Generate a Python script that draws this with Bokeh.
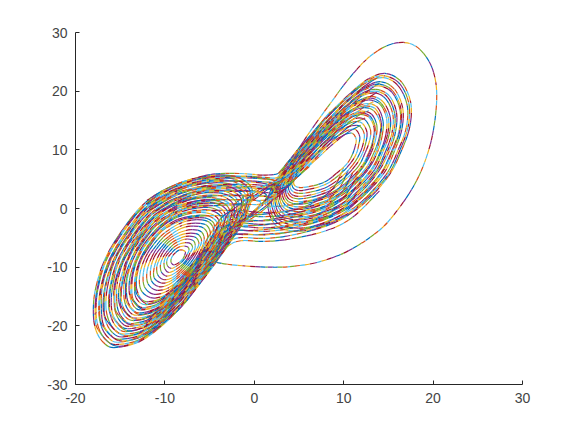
from bokeh.plotting import figure
from bokeh.models import FixedTicker
from bokeh.embed import file_html
from bokeh.resources import INLINE

# The strands overlap too densely to follow one by one in the picture. Rims, the hole, the lone
# outer loop and the band edges are read from it; the strands between them are hand estimates.
# Only the listed points are data: the drawing joins them with smooth Bezier curves.

x_ticks = [-20, -10, 0, 10, 20, 30]
y_ticks = [-30, -20, -10, 0, 10, 20, 30]
colours = ["#0072BD", "#D95319", "#EDB120", "#7E2F8E", "#77AC30", "#4DBEEE", "#A2142F"]

lone_loop = [(-4.2,-9.2),(-3,-9.5),(-1,-9.8),(1.5,-10),(4,-9.9),(7,-9.2),(10,-7.6),(12.5,-5.4),(14.5,-3),(16,-.3),(17.3,2.5),(18.4,5.5),(19.2,8.5),(19.8,11.6),(20.2,15),(20.4,18.5),(20.3,21.5),(19.8,24.3),(18.9,26.5),(17.9,27.8),(16.7,28.3),(15.3,28),(13.8,26.9),(12.2,24.9),(10.3,21.6),(8.5,17.9),(6.5,13.7),(4.8,9.9),(3.7,7.8),(2.7,6)]

L01 = [(-15.7,-23.7),(-16.9,-22.8),(-17.7,-20.8),(-18,-18),(-17.8,-14),(-16.8,-9),(-15,-4.2),(-12.2,1),(-8.6,4.2),(-4.9,5.6),(-2,5.4),(-.3,3.5),(-.5,.5),(-1.3,-2.5),(-2.6,-5.5),(-4.3,-9.2),(-6.2,-13),(-8,-16.5),(-10.5,-20.2),(-13,-22.8)]
L02 = [(-15.5,-23.2),(-16.6,-22.4),(-17.4,-20.4),(-17.7,-17.7),(-17.5,-13.8),(-16.6,-9),(-14.8,-4.3),(-12.1,.7),(-8.6,3.8),(-5,5.2),(-2.2,5),(-.5,3.1),(-.7,.2),(-1.5,-2.7),(-2.8,-5.6),(-4.4,-9.2),(-6.3,-12.9),(-8,-16.3),(-10.4,-19.8),(-12.9,-22.4)]
L03 = [(-15.3,-22.8),(-16.4,-21.9),(-17.1,-20.1),(-17.4,-17.4),(-17.2,-13.7),(-16.3,-9),(-14.6,-4.5),(-12,.4),(-8.6,3.4),(-5.1,4.8),(-2.4,4.6),(-.8,2.8),(-1,0),(-1.7,-2.9),(-3,-5.7),(-4.6,-9.2),(-6.3,-12.7),(-8,-16),(-10.4,-19.5),(-12.7,-21.9)]
L04 = [(-15.1,-22.3),(-16.1,-21.5),(-16.9,-19.7),(-17.1,-17.1),(-17,-13.5),(-16.1,-9),(-14.4,-4.6),(-11.9,.1),(-8.6,3.1),(-5.2,4.3),(-2.6,4.1),(-1,2.4),(-1.2,-.3),(-1.9,-3),(-3.1,-5.8),(-4.7,-9.1),(-6.4,-12.6),(-8,-15.8),(-10.3,-19.1),(-12.6,-21.5)]
L05 = [(-14.8,-21.9),(-15.9,-21.1),(-16.6,-19.3),(-16.9,-16.9),(-16.7,-13.3),(-15.8,-8.9),(-14.2,-4.7),(-11.8,-.1),(-8.6,2.7),(-5.3,3.9),(-2.8,3.7),(-1.3,2.1),(-1.5,-.6),(-2.2,-3.2),(-3.3,-5.9),(-4.8,-9.1),(-6.5,-12.5),(-8.1,-15.5),(-10.3,-18.8),(-12.5,-21.1)]
L06 = [(-14.6,-21.4),(-15.6,-20.7),(-16.3,-19),(-16.6,-16.6),(-16.4,-13.2),(-15.6,-8.9),(-14,-4.8),(-11.6,-.4),(-8.6,2.3),(-5.4,3.5),(-3,3.3),(-1.5,1.7),(-1.7,-.8),(-2.4,-3.4),(-3.5,-5.9),(-4.9,-9.1),(-6.5,-12.3),(-8.1,-15.3),(-10.2,-18.4),(-12.3,-20.7)]
L07 = [(-14.4,-21),(-15.4,-20.2),(-16,-18.6),(-16.3,-16.3),(-16.1,-13),(-15.3,-8.9),(-13.8,-5),(-11.5,-.7),(-8.6,1.9),(-5.5,3.1),(-3.2,2.9),(-1.8,1.3),(-1.9,-1.1),(-2.6,-3.6),(-3.7,-6),(-5.1,-9.1),(-6.6,-12.2),(-8.1,-15.1),(-10.1,-18.1),(-12.2,-20.2)]
L08 = [(-14.2,-20.5),(-15.1,-19.8),(-15.8,-18.2),(-16,-16),(-15.8,-12.8),(-15.1,-8.9),(-13.6,-5.1),(-11.4,-1),(-8.6,1.5),(-5.7,2.6),(-3.4,2.5),(-2,1),(-2.2,-1.4),(-2.8,-3.8),(-3.8,-6.1),(-5.2,-9.1),(-6.7,-12.1),(-8.1,-14.8),(-10.1,-17.7),(-12.1,-19.8)]
L09 = [(-14,-20.1),(-14.9,-19.4),(-15.5,-17.8),(-15.7,-15.7),(-15.6,-12.7),(-14.8,-8.9),(-13.4,-5.2),(-11.3,-1.3),(-8.6,1.2),(-5.8,2.2),(-3.6,2.1),(-2.3,.6),(-2.4,-1.7),(-3,-3.9),(-4,-6.2),(-5.3,-9),(-6.8,-11.9),(-8.1,-14.6),(-10,-17.4),(-11.9,-19.4)]
L10 = [(-13.8,-19.6),(-14.6,-18.9),(-15.2,-17.5),(-15.4,-15.4),(-15.3,-12.5),(-14.6,-8.9),(-13.2,-5.4),(-11.2,-1.6),(-8.6,.8),(-5.9,1.8),(-3.8,1.6),(-2.5,.3),(-2.7,-1.9),(-3.2,-4.1),(-4.2,-6.3),(-5.4,-9),(-6.8,-11.8),(-8.1,-14.3),(-10,-17),(-11.8,-18.9)]
L11 = [(-13.5,-19.1),(-14.4,-18.5),(-14.9,-17.1),(-15.2,-15.2),(-15,-12.4),(-14.3,-8.9),(-13.1,-5.5),(-11.1,-1.8),(-8.6,.4),(-6,1.4),(-3.9,1.2),(-2.8,-.1),(-2.9,-2.2),(-3.5,-4.3),(-4.4,-6.4),(-5.6,-9),(-6.9,-11.7),(-8.1,-14.1),(-9.9,-16.7),(-11.7,-18.5)]
L12 = [(-13.3,-18.7),(-14.1,-18.1),(-14.7,-16.7),(-14.9,-14.9),(-14.7,-12.2),(-14.1,-8.8),(-12.9,-5.6),(-11,-2.1),(-8.6,0),(-6.1,.9),(-4.1,.8),(-3,-.5),(-3.1,-2.5),(-3.7,-4.5),(-4.5,-6.5),(-5.7,-9),(-7,-11.5),(-8.2,-13.9),(-9.8,-16.3),(-11.5,-18.1)]
L13 = [(-13.1,-18.2),(-13.9,-17.7),(-14.4,-16.4),(-14.6,-14.6),(-14.5,-12),(-13.8,-8.8),(-12.7,-5.7),(-10.9,-2.4),(-8.6,-.4),(-6.2,.5),(-4.3,.4),(-3.3,-.8),(-3.4,-2.7),(-3.9,-4.7),(-4.7,-6.6),(-5.8,-8.9),(-7,-11.4),(-8.2,-13.6),(-9.8,-16),(-11.4,-17.7)]
L14 = [(-12.9,-17.8),(-13.6,-17.2),(-14.1,-16),(-14.3,-14.3),(-14.2,-11.9),(-13.6,-8.8),(-12.5,-5.9),(-10.8,-2.7),(-8.6,-.8),(-6.3,.1),(-4.5,0),(-3.5,-1.2),(-3.6,-3),(-4.1,-4.8),(-4.9,-6.7),(-5.9,-8.9),(-7.1,-11.2),(-8.2,-13.4),(-9.7,-15.6),(-11.2,-17.2)]
L15 = [(-12.7,-17.3),(-13.4,-16.8),(-13.8,-15.6),(-14,-14),(-13.9,-11.7),(-13.3,-8.8),(-12.3,-6),(-10.6,-3),(-8.6,-1.1),(-6.4,-.3),(-4.7,-.4),(-3.7,-1.5),(-3.9,-3.3),(-4.3,-5),(-5.1,-6.8),(-6.1,-8.9),(-7.2,-11.1),(-8.2,-13.1),(-9.7,-15.3),(-11.1,-16.8)]
L16 = [(-12.5,-16.9),(-13.1,-16.4),(-13.6,-15.3),(-13.7,-13.7),(-13.6,-11.5),(-13.1,-8.8),(-12.1,-6.1),(-10.5,-3.3),(-8.6,-1.5),(-6.5,-.7),(-4.9,-.9),(-4,-1.9),(-4.1,-3.5),(-4.5,-5.2),(-5.3,-6.8),(-6.2,-8.9),(-7.2,-11),(-8.2,-12.9),(-9.6,-14.9),(-11,-16.4)]
L17 = [(-12.2,-16.4),(-12.9,-15.9),(-13.3,-14.9),(-13.4,-13.4),(-13.3,-11.4),(-12.8,-8.8),(-11.9,-6.3),(-10.4,-3.6),(-8.6,-1.9),(-6.6,-1.2),(-5.1,-1.3),(-4.2,-2.3),(-4.3,-3.8),(-4.8,-5.4),(-5.4,-6.9),(-6.3,-8.9),(-7.3,-10.8),(-8.2,-12.7),(-9.5,-14.6),(-10.8,-15.9)]
L18 = [(-12,-15.9),(-12.6,-15.5),(-13,-14.5),(-13.2,-13.2),(-13.1,-11.2),(-12.6,-8.7),(-11.7,-6.4),(-10.3,-3.8),(-8.5,-2.3),(-6.7,-1.6),(-5.3,-1.7),(-4.5,-2.6),(-4.6,-4.1),(-5,-5.6),(-5.6,-7),(-6.4,-8.8),(-7.4,-10.7),(-8.3,-12.4),(-9.5,-14.2),(-10.7,-15.5)]
L19 = [(-11.6,-15.2),(-12.7,-13.8),(-12.8,-11.2),(-12.2,-8.4),(-11.2,-6),(-9.9,-4),(-8.1,-2.4),(-6.4,-1.9),(-5,-2.4),(-4.5,-4.2),(-5.1,-6.7),(-6.4,-9.7),(-8.2,-12.7),(-10,-14.8)]
L20 = [(-11.3,-14.6),(-12.3,-13.3),(-12.4,-10.9),(-11.9,-8.4),(-10.9,-6.2),(-9.8,-4.4),(-8.1,-2.9),(-6.6,-2.5),(-5.3,-2.9),(-4.9,-4.6),(-5.4,-6.8),(-6.6,-9.6),(-8.2,-12.3),(-9.9,-14.2)]
L21 = [(-11,-13.9),(-11.9,-12.8),(-12,-10.7),(-11.5,-8.4),(-10.7,-6.4),(-9.6,-4.8),(-8.2,-3.4),(-6.8,-3),(-5.6,-3.4),(-5.2,-4.9),(-5.7,-7),(-6.8,-9.4),(-8.2,-11.9),(-9.7,-13.6)]
L22 = [(-10.7,-13.3),(-11.5,-12.3),(-11.6,-10.4),(-11.2,-8.3),(-10.4,-6.6),(-9.5,-5.1),(-8.2,-4),(-6.9,-3.6),(-5.9,-4),(-5.6,-5.3),(-6,-7.1),(-6.9,-9.3),(-8.3,-11.5),(-9.6,-13)]
L23 = [(-10.4,-12.7),(-11.2,-11.8),(-11.2,-10.1),(-10.8,-8.3),(-10.2,-6.8),(-9.4,-5.5),(-8.2,-4.5),(-7.1,-4.2),(-6.2,-4.5),(-5.9,-5.6),(-6.3,-7.2),(-7.1,-9.2),(-8.3,-11.1),(-9.4,-12.4)]
L24 = [(-10.2,-12.1),(-10.8,-11.3),(-10.9,-9.9),(-10.5,-8.3),(-10,-7),(-9.2,-5.8),(-8.2,-5),(-7.3,-4.7),(-6.5,-5),(-6.2,-6),(-6.6,-7.4),(-7.3,-9),(-8.3,-10.7),(-9.3,-11.9)]
L25 = [(-9.9,-11.5),(-10.4,-10.8),(-10.5,-9.6),(-10.2,-8.3),(-9.7,-7.2),(-9.1,-6.2),(-8.3,-5.5),(-7.5,-5.2),(-6.8,-5.5),(-6.6,-6.3),(-6.8,-7.5),(-7.5,-8.9),(-8.3,-10.3),(-9.2,-11.3)]
L26 = [(-9.6,-10.9),(-10,-10.3),(-10.1,-9.3),(-9.9,-8.2),(-9.5,-7.4),(-9,-6.6),(-8.3,-6),(-7.6,-5.8),(-7.1,-6),(-6.9,-6.7),(-7.2,-7.6),(-7.6,-8.8),(-8.3,-9.9),(-9,-10.6)]
L27 = [(-9.3,-10.2),(-9.7,-9.8),(-9.8,-9),(-9.6,-8.2),(-9.2,-7.5),(-8.8,-6.9),(-8.3,-6.5),(-7.8,-6.4),(-7.4,-6.6),(-7.3,-7.1),(-7.5,-7.8),(-7.8,-8.6),(-8.3,-9.4),(-8.9,-10)]
L28 = [(-9,-9.6),(-9.3,-9.2),(-9.3,-8.6),(-9.1,-8),(-8.8,-7.5),(-8.4,-7.1),(-8,-7.1),(-7.7,-7.4),(-7.8,-8),(-8,-8.6),(-8.4,-9.2)]

E01 = [(-15.6,-23.4),(-17.5,-20.6),(-17.8,-17.8),(-17.6,-13.9),(-16.7,-9),(-14.9,-4.2),(-12.1,.8),(-8.6,4),(-4.9,5.4),(-1,5.4),(2.2,4.8),(2.6,3),(.8,.4),(-1.4,-2.6),(-2.7,-5.6),(-4.3,-9.2),(-6.2,-13),(-8,-16.4),(-10.4,-20),(-13,-22.6)]
E02 = [(-15.2,-22.5),(-17,-19.9),(-17.3,-17.3),(-17.1,-13.6),(-16.2,-9),(-14.5,-4.5),(-12,.2),(-8.6,3.3),(-5.1,4.6),(-1.5,4.6),(1.5,4.1),(1.9,2.5),(.3,.1),(-1.8,-3),(-3,-5.7),(-4.6,-9.2),(-6.4,-12.7),(-8,-15.9),(-10.3,-19.3),(-12.6,-21.7)]
E03 = [(-14.7,-21.6),(-16.5,-19.1),(-16.8,-16.8),(-16.6,-13.2),(-15.7,-8.9),(-14.1,-4.7),(-11.7,-.2),(-8.6,2.5),(-5.3,3.7),(-1.5,3.8),(2,3.3),(2.3,1.9),(.4,-.6),(-2.3,-3.3),(-3.4,-5.9),(-4.9,-9.1),(-6.5,-12.4),(-8.1,-15.4),(-10.2,-18.6),(-12.4,-20.9)]
E04 = [(-14.3,-20.8),(-15.9,-18.4),(-16.2,-16.2),(-16,-12.9),(-15.2,-8.9),(-13.7,-5),(-11.4,-.8),(-8.6,1.7),(-5.6,2.9),(-1.8,3.1),(1,2.7),(1.2,1.4),(-.5,-1),(-2.7,-3.7),(-3.8,-6),(-5.1,-9.1),(-6.6,-12.1),(-8.1,-15),(-10.1,-17.9),(-12.1,-20)]
E05 = [(-13.9,-19.8),(-15.4,-17.7),(-15.6,-15.6),(-15.5,-12.6),(-14.7,-8.9),(-13.3,-5.3),(-11.2,-1.4),(-8.6,1),(-5.8,2),(-2,2.3),(1.6,2),(1.8,.9),(0,-1.4),(-3.1,-4),(-4.1,-6.2),(-5.4,-9),(-6.8,-11.8),(-8.1,-14.4),(-10,-17.2),(-11.8,-19.1)]
E06 = [(-13.4,-18.9),(-14.8,-16.9),(-15,-15),(-14.8,-12.3),(-14.2,-8.9),(-13,-5.5),(-11,-2),(-8.6,.2),(-6,1.1),(-2.5,1.5),(.4,1.3),(.5,.3),(-1.2,-2),(-3.6,-4.4),(-4.5,-6.5),(-5.6,-9),(-7,-11.6),(-8.2,-14),(-9.8,-16.5),(-11.6,-18.3)]
E07 = [(-13,-18),(-14.2,-16.2),(-14.4,-14.4),(-14.3,-12),(-13.7,-8.8),(-12.6,-5.8),(-10.8,-2.6),(-8.6,-.6),(-6.3,.3),(-2.8,.6),(-1,.5),(-.9,-.6),(-2,-2.5),(-4,-4.8),(-4.8,-6.7),(-5.9,-8.9),(-7.1,-11.3),(-8.2,-13.5),(-9.7,-15.8),(-11.3,-17.4)]
E08 = [(-12.6,-17.1),(-13.7,-15.4),(-13.8,-13.8),(-13.7,-11.6),(-13.2,-8.8),(-12.2,-6.1),(-10.5,-3.2),(-8.6,-1.3),(-6.5,-.5),(-3.5,-.3),(-1.6,-.5),(-1.5,-1.5),(-3,-3),(-4.4,-5.1),(-5.2,-6.8),(-6.2,-8.9),(-7.2,-11),(-8.2,-13),(-9.6,-15.1),(-11,-16.6)]
E09 = [(-12.1,-16.2),(-13.1,-14.7),(-13.3,-13.3),(-13.2,-11.3),(-12.7,-8.8),(-11.8,-6.3),(-10.3,-3.7),(-8.5,-2.1),(-6.7,-1.4),(-4,-1.2),(-2.5,-1.4),(-2.5,-2.3),(-3.7,-3.6),(-4.9,-5.5),(-5.5,-7),(-6.4,-8.8),(-7.4,-10.7),(-8.2,-12.5),(-9.5,-14.4),(-10.8,-15.7)]

R01 = [(2.5,5),(5,10),(8,15.5),(11,20),(13,22.3),(14.8,23),(16.5,21.5),(17.5,18),(17.4,14),(16.5,10),(15,5.5),(12,.5),(9,-2.2),(5.5,-3.8),(2.5,-3),(1.5,1)]
R02 = [(2.7,5.1),(5.1,9.8),(7.9,15.1),(10.8,19.4),(12.7,21.6),(14.5,22.3),(16.1,20.9),(17.1,17.6),(17,13.8),(16.1,10),(14.7,5.7),(11.8,.9),(8.9,-1.7),(5.5,-3.3),(2.6,-2.5),(1.7,1.3)]
R03 = [(2.8,5.1),(5.1,9.7),(7.9,14.6),(10.6,18.7),(12.5,20.8),(14.2,21.6),(15.7,20.3),(16.6,17.1),(16.5,13.5),(15.7,9.9),(14.4,5.8),(11.6,1.3),(8.8,-1.3),(5.5,-2.8),(2.8,-2),(1.9,1.5)]
R04 = [(3,5.2),(5.2,9.6),(7.8,14.3),(10.4,18.2),(12.3,20.2),(13.9,20.9),(15.4,19.8),(16.3,16.8),(16.2,13.3),(15.4,9.9),(14.1,5.9),(11.4,1.6),(8.7,-.9),(5.5,-2.3),(2.9,-1.6),(2.1,1.7)]
R05 = [(3.1,5.2),(5.3,9.4),(7.8,13.9),(10.3,17.6),(12,19.6),(13.6,20.3),(15.1,19.2),(15.9,16.4),(15.8,13.1),(15.1,9.8),(13.8,6.1),(11.3,1.9),(8.7,-.5),(5.5,-1.9),(3,-1.2),(2.3,1.9)]
R06 = [(3.2,5.3),(5.3,9.3),(7.7,13.5),(10.1,17.1),(11.8,19),(13.4,19.7),(14.7,18.7),(15.5,16),(15.4,12.9),(14.7,9.8),(13.5,6.2),(11.1,2.3),(8.6,-.1),(5.5,-1.4),(3.2,-.8),(2.4,2.2)]
R07 = [(3.4,5.3),(5.4,9.2),(7.7,13.2),(9.9,16.5),(11.6,18.3),(13.1,19.1),(14.4,18.2),(15.2,15.6),(15.1,12.7),(14.4,9.7),(13.3,6.3),(10.9,2.6),(8.5,.3),(5.5,-1),(3.3,-.4),(2.6,2.4)]
R08 = [(3.5,5.4),(5.4,9),(7.6,12.8),(9.8,16),(11.4,17.7),(12.8,18.5),(14.1,17.7),(14.8,15.3),(14.7,12.5),(14.1,9.7),(13,6.5),(10.8,2.9),(8.4,.7),(5.5,-.5),(3.4,0),(2.8,2.6)]
R09 = [(3.6,5.4),(5.5,8.9),(7.6,12.4),(9.6,15.4),(11.2,17.1),(12.6,17.9),(13.8,17.2),(14.4,14.9),(14.3,12.4),(13.8,9.7),(12.7,6.6),(10.6,3.2),(8.4,1.1),(5.5,-.1),(3.6,.4),(2.9,2.8)]
R10 = [(3.8,5.4),(5.6,8.8),(7.5,12.1),(9.4,14.8),(10.9,16.5),(12.3,17.2),(13.4,16.6),(14.1,14.5),(14,12.2),(13.4,9.6),(12.4,6.7),(10.4,3.6),(8.3,1.5),(5.5,.3),(3.7,.8),(3.1,3)]
R11 = [(3.9,5.5),(5.6,8.6),(7.4,11.7),(9.3,14.3),(10.7,15.9),(12,16.6),(13.1,16.1),(13.7,14.2),(13.6,12),(13.1,9.6),(12.1,6.9),(10.3,3.9),(8.2,1.9),(5.5,.8),(3.8,1.2),(3.3,3.2)]
R12 = [(4.1,5.5),(5.7,8.5),(7.4,11.4),(9.1,13.7),(10.5,15.2),(11.7,16),(12.8,15.6),(13.4,13.8),(13.3,11.8),(12.8,9.5),(11.9,7),(10.1,4.2),(8.1,2.3),(5.5,1.2),(3.9,1.6),(3.5,3.4)]
R13 = [(4.2,5.6),(5.7,8.4),(7.3,11),(8.9,13.2),(10.3,14.6),(11.5,15.4),(12.4,15.1),(13,13.4),(12.9,11.6),(12.4,9.5),(11.6,7.1),(9.9,4.6),(8,2.7),(5.5,1.7),(4.1,2),(3.6,3.7)]
R14 = [(4.3,5.6),(5.8,8.2),(7.3,10.6),(8.8,12.6),(10,14),(11.2,14.8),(12.1,14.5),(12.6,13),(12.5,11.4),(12.1,9.4),(11.3,7.3),(9.8,4.9),(8,3.1),(5.5,2.1),(4.2,2.4),(3.8,3.9)]
R15 = [(4.5,5.7),(5.9,8.1),(7.2,10.3),(8.6,12.1),(9.8,13.4),(10.9,14.1),(11.8,14),(12.3,12.7),(12.2,11.2),(11.8,9.4),(11,7.4),(9.6,5.2),(7.9,3.5),(5.5,2.6),(4.3,2.9),(4,4.1)]
R16 = [(4.6,5.7),(5.9,8),(7.2,9.8),(8.4,11.5),(9.6,12.6),(10.6,13.4),(11.4,13.4),(11.8,12.2),(11.7,11),(11.4,9.3),(10.7,7.6),(9.4,5.6),(7.8,4),(5.5,3.1),(4.5,3.3),(4.2,4.3)]
R17 = [(4.8,5.8),(6,7.8),(7.1,9.4),(8.2,10.8),(9.3,11.9),(10.3,12.7),(11,12.8),(11.4,11.8),(11.3,10.7),(11,9.3),(10.4,7.7),(9.2,6),(7.7,4.4),(5.5,3.6),(4.6,3.8),(4.4,4.6)]

F01 = [(2.6,5),(5.1,9.9),(8,15.3),(10.9,19.7),(12.9,22),(14.6,22.6),(16.3,21.2),(17.3,17.8),(17.2,13.9),(16.3,10),(14.9,5.6),(11.9,.7),(9,-2),(5.5,-3.6),(1,-4.4),(-2.5,-4.2),(-3.4,-2.5),(-2,1),(.5,3.5)]
F02 = [(2.9,5.1),(5.2,9.6),(7.9,14.4),(10.5,18.4),(12.4,20.5),(14,21.2),(15.5,20),(16.4,17),(16.3,13.4),(15.5,9.9),(14.2,5.9),(11.5,1.4),(8.7,-1.1),(5.5,-2.6),(1,-3.6),(-2,-3.6),(-2.8,-2),(-1,.8),(1,3.3)]
F03 = [(3.2,5.3),(5.3,9.3),(7.7,13.7),(10.2,17.3),(11.9,19.3),(13.5,20),(14.9,19),(15.7,16.2),(15.6,13),(14.9,9.8),(13.6,6.1),(11.2,2.1),(8.6,-.3),(5.5,-1.7),(1,-2.8),(-2.2,-2.6),(-3,-1.2),(-1.2,1.2),(1,3.7)]
F04 = [(3.4,5.3),(5.4,9.1),(7.6,13),(9.8,16.3),(11.5,18),(13,18.8),(14.2,17.9),(15,15.4),(14.9,12.6),(14.2,9.7),(13.1,6.4),(10.8,2.8),(8.4,.5),(5.5,-.8),(1,-2),(-1.6,-2),(-2.2,-.8),(-.4,1.4),(1.5,3.6)]
F05 = [(3.7,5.4),(5.5,8.8),(7.5,12.2),(9.5,15.1),(11,16.8),(12.4,17.5),(13.6,16.9),(14.2,14.7),(14.1,12.3),(13.6,9.6),(12.6,6.7),(10.5,3.4),(8.3,1.3),(5.5,.1),(2,-.8),(-.5,-1),(-1,.2),(.4,2),(2,3.8)]
F06 = [(4,5.5),(5.6,8.5),(7.4,11.5),(9.2,14),(10.6,15.5),(11.8,16.3),(12.9,15.8),(13.5,14),(13.4,11.9),(12.9,9.5),(12,6.9),(10.2,4),(8.1,2.1),(5.5,1),(3,.4),(1.4,.5),(1.3,1.6),(2.2,3),(3,4.2)]

U01 = [(-12,1.4),(-10.3,3),(-8.6,4.2),(-6.8,5.1),(-4.9,5.8),(-2.8,6),(-.8,5.9),(1,5.7),(2.7,6),(3.7,7.8),(4.8,9.9),(6.5,12.9),(8.5,16.5)]
U02 = [(-12,1),(-8.6,3.9),(-4.9,5.4),(-.8,5.5),(1.2,5.3),(2.8,5.4),(4.2,7.8),(6.5,12),(9.5,17),(12,20.5),(14,22.5)]
U03 = [(-12,.7),(-8.6,3.5),(-4.9,5),(-.8,5.2),(1.4,5),(3,5),(4.5,7.6),(7,11.8),(9.8,16),(12,19.2),(14,21.4)]
U04 = [(-11.8,.2),(-8.6,3),(-5,4.5),(-.8,4.7),(1.6,4.5),(3.2,4.6),(4.8,7.2),(7.2,11.2),(9.8,15),(12,18),(13.7,19.8)]
U05 = [(-11.7,-.3),(-8.6,2.4),(-5.2,3.9),(-.8,4.1),(1.8,3.9),(3.4,4.2),(5,6.8),(7.3,10.5),(9.7,14),(11.8,16.8),(13.3,18.2)]
U06 = [(-11.5,-.9),(-8.6,1.8),(-5.4,3.3),(-.8,3.5),(1.8,3.3),(3.5,3.7),(5.2,6.4),(7.4,10),(9.5,13.2),(11.4,15.6),(12.8,16.7)]
U07 = [(-11.2,-1.5),(-8.6,1.2),(-5.6,2.7),(-1,2.9),(1.6,2.7),(3.3,3.2),(5.2,6),(7.3,9.3),(9.3,12.3),(11,14.4),(12.4,15.4)]
U08 = [(-11,-2.2),(-8.6,.6),(-5.8,2),(-1.2,2.2),(1.3,2.1),(3,2.8),(4.8,5.4),(6.8,8.2),(8.8,11),(10.5,13),(11.9,14.2)]
U09 = [(-10.8,-2.8),(-8.6,0),(-6,1.4),(-1.5,1.5),(1,1.4),(2.5,2.2),(4.4,4.8),(6.2,7.2)]
U10 = [(-10.5,-3.2),(-8.6,-.5),(-6.2,.8),(-2,.8),(.5,.7),(2,1.4),(3.6,3.2)]

B01 = [(14,3),(11,-1.5),(8,-3.8),(4,-5.2),(1,-5.6),(-1.5,-5.5),(-3,-6.5),(-4.5,-9.5),(-6.5,-13.2),(-8.2,-16.5),(-10.5,-20),(-13,-22.6)]
B02 = [(13.5,3.5),(10.8,-.8),(8,-3),(4,-4.6),(1,-5.1),(-1.8,-5),(-3.3,-6.3),(-4.8,-9.3),(-6.8,-13),(-8.5,-16.1),(-10.6,-19.5),(-12.9,-22)]
B03 = [(13,4),(10.5,-.2),(7.8,-2.5),(4,-4),(1,-4.5),(-2,-4.4),(-3.6,-6),(-5,-9.1),(-7,-12.7),(-8.6,-15.7),(-10.6,-19),(-12.7,-21.4)]
B04 = [(12.5,4.5),(10.2,.4),(7.6,-1.9),(4,-3.4),(1,-3.9),(-2.2,-3.8),(-3.9,-5.8),(-5.2,-9),(-7.1,-12.5),(-8.8,-15.3),(-10.6,-18.5),(-12.5,-20.8)]
B05 = [(12,5),(10,1),(7.4,-1.4),(4,-2.8),(1,-3.3),(-2.4,-3.2),(-4.1,-5.6),(-5.4,-8.9),(-7.2,-12.2),(-8.9,-14.9),(-10.6,-18),(-12.3,-20.2)]
B06 = [(11.5,5.5),(9.8,1.6),(7.2,-.8),(4,-2.2),(1,-2.7),(-2.6,-2.6),(-4.4,-5.4),(-5.6,-8.8),(-7.3,-11.9),(-9,-14.6),(-10.6,-17.5),(-12.1,-19.6)]
B07 = [(11,6),(9.5,2.2),(7,-.3),(4,-1.6),(1,-2.1),(-2.8,-2),(-4.6,-5.2),(-5.8,-8.6),(-7.4,-11.6),(-9.1,-14.2),(-10.6,-17),(-11.9,-19)]
B08 = [(10.5,6.5),(9.2,2.8),(6.8,.3),(4,-1),(1,-1.4),(-2.8,-1.3),(-4.8,-4.9),(-6,-8.3),(-7.5,-11.2),(-9.2,-13.8)]
B09 = [(10,7),(8.8,3.4),(6.5,.9),(4,-.4),(1,-.7),(-2.8,-.6),(-5,-4.5),(-6.2,-8),(-7.6,-10.8),(-9.2,-13.3)]

closed_rings = [L01,L02,L03,L04,L05,L06,L07,L08,L09,L10,L11,L12,L13,L14,L15,L16,L17,L18,L19,L20,L21,L22,L23,L24,L25,L26,L27,L28,
                E01,E02,E03,E04,E05,E06,E07,E08,E09,
                R01,R02,R03,R04,R05,R06,R07,R08,R09,R10,R11,R12,R13,R14,R15,R16,R17,
                F01,F02,F03,F04,F05,F06]
open_strands = [U01,U02,U03,U04,U05,U06,U07,U08,U09,U10,B01,B02,B03,B04,B05,B06,B07,B08,B09,lone_loop]


def segments(path, closed):
    n = len(path)
    stops = n if closed else n - 1
    for i in range(stops):
        if closed:
            a, b, c, d = path[i - 1], path[i], path[(i + 1) % n], path[(i + 2) % n]
        else:
            a, b, c, d = path[max(i - 1, 0)], path[i], path[i + 1], path[min(i + 2, n - 1)]
        yield (b[0], b[1], c[0], c[1],
               b[0] + (c[0] - a[0]) / 6, b[1] + (c[1] - a[1]) / 6,
               c[0] - (d[0] - b[0]) / 6, c[1] - (d[1] - b[1]) / 6)


segs = [s for r in closed_rings for s in segments(r, True)]
segs += [s for r in open_strands for s in segments(r, False)]
x0, y0, x1, y1, cx0, cy0, cx1, cy1 = [list(col) for col in zip(*segs)]

p = figure(width=561, height=417, x_range=(-20, 30), y_range=(-30, 30),
           output_backend="svg", toolbar_location=None,
           min_border_left=75, min_border_right=39, min_border_top=32, min_border_bottom=33)
p.outline_line_color = None
p.grid.visible = False
p.background_fill_color = "white"

for k in range(len(colours)):
    seg_colours = [colours[(i + k * 3) % len(colours)] for i in range(len(segs))]
    p.bezier(x0=x0, y0=y0, x1=x1, y1=y1, cx0=cx0, cy0=cy0, cx1=cx1, cy1=cy1,
             line_color=seg_colours, line_width=1.2,
             line_dash="5 30", line_dash_offset=k * 5)

for axis, ticks in ((p.xaxis[0], x_ticks), (p.yaxis[0], y_ticks)):
    axis.ticker = FixedTicker(ticks=ticks)
    axis.major_label_overrides = {t: str(t) for t in ticks}
    axis.major_tick_in = 4
    axis.major_tick_out = 0
    axis.minor_tick_line_color = None
    axis.axis_line_color = "#262626"
    axis.major_tick_line_color = "#262626"
    axis.major_label_text_color = "#444444"
    axis.major_label_text_font = "Liberation Sans"
    axis.major_label_text_font_size = "14px"
    axis.major_label_standoff = 8

open("out.html", "w").write(file_html(p, INLINE))
